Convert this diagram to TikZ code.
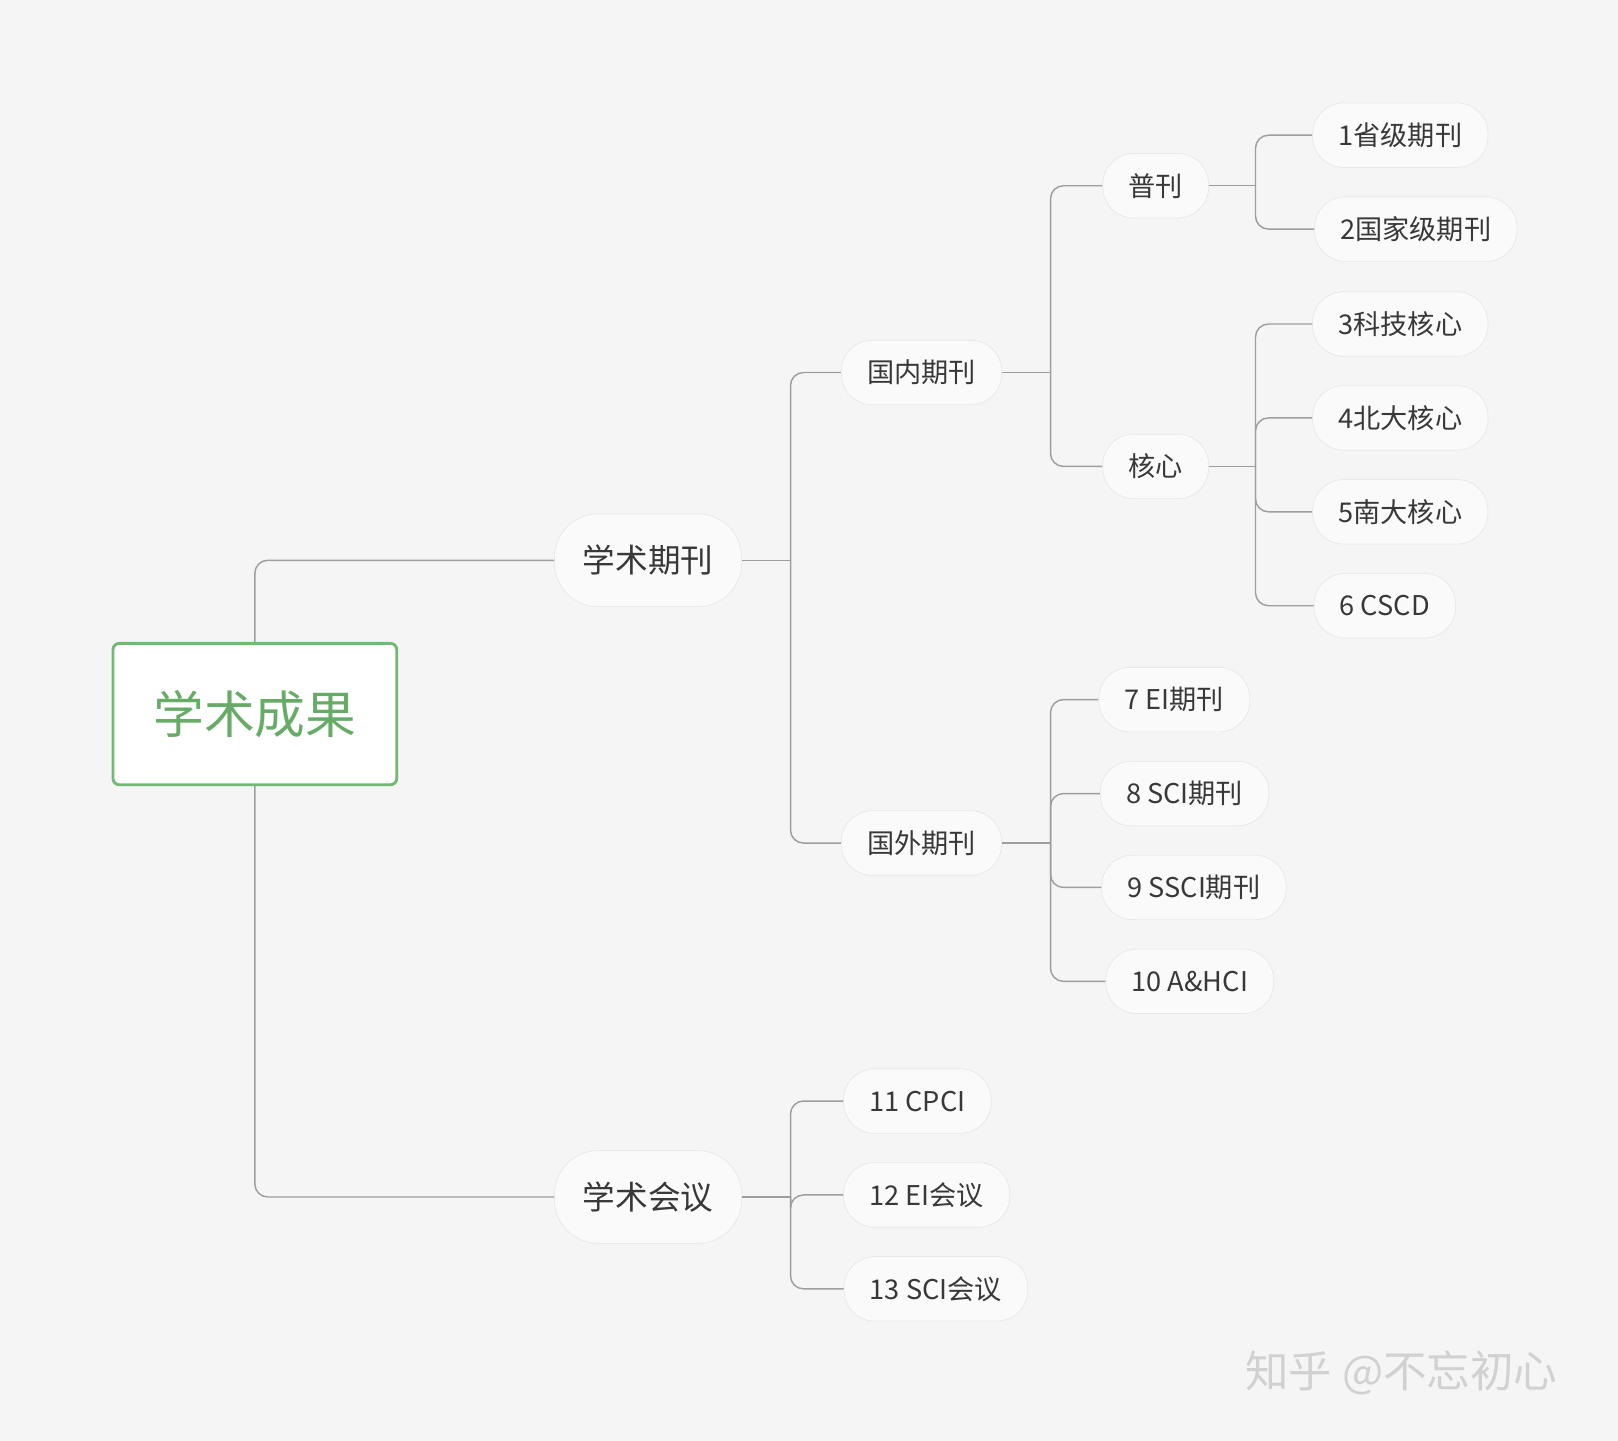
\documentclass[tikz,border=0pt]{standalone}
\usepackage{fontspec}
\setmainfont{Noto Sans CJK SC}
\begin{document}
\begin{tikzpicture}[x=0.02cm,y=-0.02cm,
  topic/.style={draw=black!9,fill=black!2,rounded corners=0.6cm,text=black!78,font=\fontsize{15}{18}\selectfont,minimum height=1.25cm,inner xsep=0.5cm},
  major/.style={topic,font=\fontsize{18}{21}\selectfont,minimum height=1.8cm,rounded corners=0.85cm,inner xsep=0.55cm},
  link/.style={draw=black!38,line width=0.8pt,rounded corners=0.25cm}]
\fill[black!4] (0,0) rectangle (1568,1396);
\node[draw=green!50!black!55,line width=1.6pt,fill=white,rounded corners=0.12cm,minimum width=5.5cm,minimum height=2.74cm,text=green!45!black!60,font=\fontsize{28}{32}\selectfont] (root) at (247,692) {学术成果};
\node[major] (qk) at (628,543) {学术期刊};
\node[major] (hy) at (628,1160) {学术会议};
\node[topic] (gn) at (893,361) {国内期刊};
\node[topic] (gw) at (893,817) {国外期刊};
\node[topic] (pk) at (1120,180) {普刊};
\node[topic] (hx) at (1120,452) {核心};
\node[topic] (n1) at (1357,131) {1省级期刊};
\node[topic] (n2) at (1372,222) {2国家级期刊};
\node[topic] (n3) at (1357,314) {3科技核心};
\node[topic] (n4) at (1357,405) {4北大核心};
\node[topic] (n5) at (1357,496) {5南大核心};
\node[topic] (n6) at (1342,587) {6 CSCD};
\node[topic] (n7) at (1138,678) {7 EI期刊};
\node[topic] (n8) at (1148,769) {8 SCI期刊};
\node[topic] (n9) at (1157,860) {9 SSCI期刊};
\node[topic] (n10) at (1153,951) {10 A\&HCI};
\node[topic] (n11) at (889,1067) {11 CPCI};
\node[topic] (n12) at (898,1158) {12 EI会议};
\node[topic] (n13) at (907,1249) {13 SCI会议};
% connectors
\draw[link] (root.north) |- (qk.west);
\draw[link] (root.south) |- (hy.west);
\draw[link] (qk.east) -- ++(47,0) coordinate (b1);
\draw[link] (b1) |- (gn.west);
\draw[link] (b1) |- (gw.west);
\draw[link] (gn.east) -- ++(47,0) coordinate (b2);
\draw[link] (b2) |- (pk.west);
\draw[link] (b2) |- (hx.west);
\draw[link] (pk.east) -- ++(45,0) coordinate (b3);
\draw[link] (b3) |- (n1.west);
\draw[link] (b3) |- (n2.west);
\draw[link] (hx.east) -- ++(45,0) coordinate (b4);
\draw[link] (b4) |- (n3.west);
\draw[link] (b4) |- (n4.west);
\draw[link] (b4) |- (n5.west);
\draw[link] (b4) |- (n6.west);
\draw[link] (gw.east) -- ++(47,0) coordinate (b5);
\draw[link] (b5) |- (n7.west);
\draw[link] (b5) |- (n8.west);
\draw[link] (b5) |- (n9.west);
\draw[link] (b5) |- (n10.west);
\draw[link] (hy.east) -- ++(47,0) coordinate (b6);
\draw[link] (b6) |- (n11.west);
\draw[link] (b6) |- (n12.west);
\draw[link] (b6) |- (n13.west);
\node[text=black!18,font=\fontsize{24}{28}\selectfont] (mark) at (1358,1330) {知乎 @不忘初心};
\end{tikzpicture}
\end{document}
